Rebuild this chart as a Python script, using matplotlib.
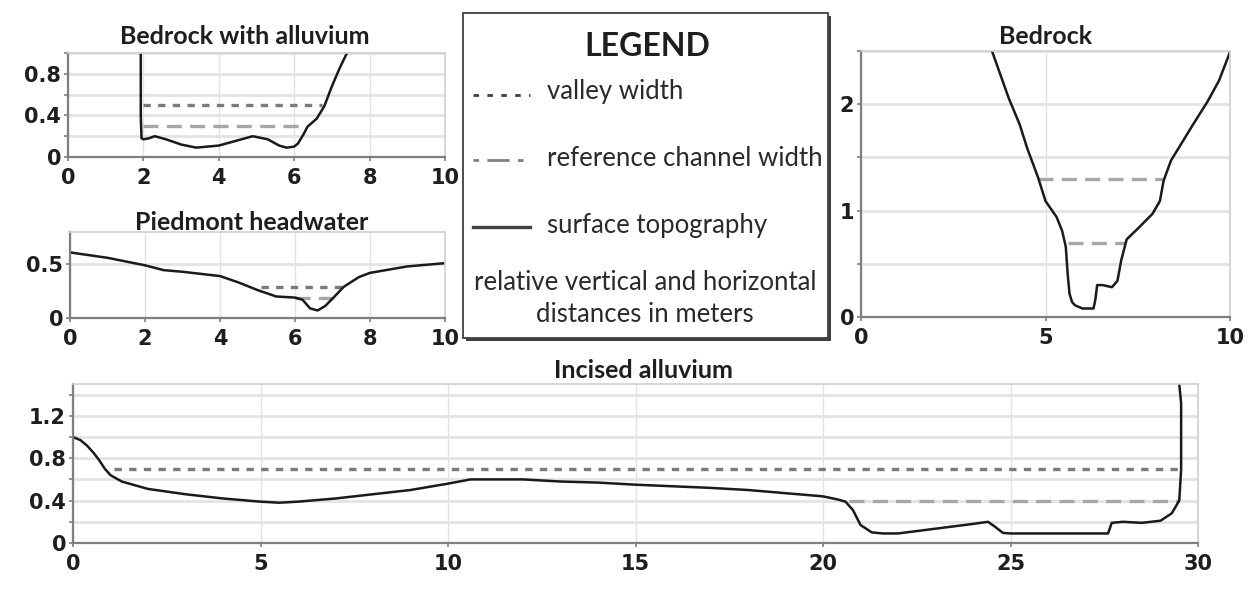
import matplotlib.pyplot as plt
import numpy as np
from matplotlib.lines import Line2D
from matplotlib.patches import Rectangle

plt.rcParams['font.family'] = ['Lato', 'DejaVu Sans']

# ---- data ----
# Bedrock with alluvium
ba_x = [1.93, 1.93, 1.95, 2.0, 2.15, 2.3, 2.6, 3.0, 3.4, 4.0, 4.5, 4.9, 5.3, 5.6, 5.8, 6.0, 6.1,
        6.25, 6.35, 6.6, 6.8, 7.0, 7.2, 7.4]
ba_y = [1.0, 0.4, 0.18, 0.17, 0.18, 0.2, 0.17, 0.12, 0.09, 0.11, 0.16, 0.2, 0.17, 0.11, 0.09, 0.1, 0.13,
        0.22, 0.29, 0.37, 0.49, 0.68, 0.85, 1.0]
ba_valley = ([2.0, 6.75], 0.5)
ba_ref = ([2.0, 6.25], 0.3)

# Piedmont headwater
ph_x = [0, 1, 2, 2.5, 3, 4, 4.5, 5, 5.5, 6.0, 6.2, 6.4, 6.6, 6.8, 7.0, 7.3, 7.7, 8, 9, 10]
ph_y = [0.61, 0.56, 0.49, 0.445, 0.43, 0.39, 0.33, 0.26, 0.2, 0.19, 0.17, 0.09, 0.07, 0.11, 0.18,
        0.29, 0.38, 0.42, 0.48, 0.51]
ph_valley = ([5.1, 7.3], 0.285)
ph_ref = ([6.0, 7.0], 0.19)

# Bedrock
br_x = [3.55, 4.0, 4.3, 4.5, 4.8, 5.0, 5.3, 5.45, 5.55, 5.6, 5.65, 5.72, 5.8, 6.0, 6.3, 6.35, 6.4,
        6.55, 6.8, 6.95, 7.05, 7.2, 7.5, 7.9, 8.1, 8.2, 8.4, 8.7, 9.0, 9.4, 9.7, 10.0]
br_y = [2.5, 2.06, 1.81, 1.59, 1.31, 1.09, 0.94, 0.81, 0.66, 0.41, 0.22, 0.14, 0.11, 0.08, 0.08,
        0.16, 0.3, 0.3, 0.28, 0.34, 0.53, 0.73, 0.83, 0.97, 1.09, 1.28, 1.47, 1.64, 1.81, 2.03,
        2.22, 2.49]
br_valley = ([4.8, 8.2], 1.3)
br_ref = ([5.6, 7.15], 0.7)

# Incised alluvium
ia_x = [0, 0.2, 0.37, 0.55, 0.7, 0.85, 1.0, 1.3, 2, 3, 4, 5, 5.5, 6, 7, 8, 9, 9.5, 10, 10.6, 11,
        12, 13, 14, 15, 16, 17, 18, 19, 20, 20.4, 20.6, 20.8, 21.0, 21.3, 21.6, 22, 23, 24, 24.4,
        24.6, 24.8, 25, 27, 27.6, 27.7, 28, 28.5, 29, 29.3, 29.5, 29.55, 29.55, 29.5]
ia_y = [1.0, 0.97, 0.92, 0.85, 0.78, 0.7, 0.64, 0.58, 0.51, 0.46, 0.42, 0.39, 0.38, 0.39, 0.42,
        0.46, 0.5, 0.53, 0.56, 0.6, 0.6, 0.6, 0.58, 0.57, 0.55, 0.535, 0.52, 0.5, 0.47, 0.44, 0.41,
        0.39, 0.31, 0.17, 0.1, 0.09, 0.09, 0.135, 0.18, 0.2, 0.15, 0.095, 0.09, 0.09, 0.09, 0.19,
        0.2, 0.19, 0.21, 0.28, 0.4, 0.69, 1.32, 1.5]
ia_valley = ([1.1, 29.5], 0.7)
ia_ref = ([20.7, 29.5], 0.4)

W, H = 1255, 604
fig = plt.figure(figsize=(W / 100, H / 100), dpi=100)

dot_style = dict(color='#7a7a7a', lw=2.4, dashes=(2.2, 2.2))
dash_style = dict(color='#a6a6a6', lw=2.4, dashes=(4.5, 2.5))
curve_style = dict(color='#1a1a1a', lw=1.8)
TXT = '#1e1e1e'


def make_ax(l, r, t, b):
    return fig.add_axes([l / W, 1 - b / H, (r - l) / W, (b - t) / H])


def style_ax(ax, xlim, xmaj, ylim, ymaj, ymin):
    ax.set_xlim(*xlim)
    ax.set_ylim(*ylim)
    ax.set_xticks(xmaj)
    ax.set_yticks(ymaj)
    ax.set_yticks(ymin, minor=True)
    tick_font = dict(fontsize=15, fontweight='bold', family='DejaVu Sans')
    ax.set_xticklabels([f'{v:g}' for v in xmaj], **tick_font)
    ax.set_yticklabels([f'{v:g}' for v in ymaj], **tick_font)
    ax.grid(True, axis='y', which='both', color='#e3e3e3', lw=2)
    ax.grid(True, axis='x', which='major', color='#e3e3e3', lw=1)
    ax.set_axisbelow(True)
    for s in ['left', 'bottom']:
        ax.spines[s].set_color('#7f7f7f')
        ax.spines[s].set_linewidth(1.6)
    for s in ['top', 'right']:
        ax.spines[s].set_color('#d0d0d0')
        ax.spines[s].set_linewidth(1.2)
    ax.tick_params(which='both', direction='out', length=3, width=1.2, color='#7f7f7f',
                   labelcolor=TXT)
    ax.tick_params(axis='x', pad=5)
    ax.tick_params(axis='y', pad=2)


def draw_panel(ax, x, y, valley, ref, ref2_style=None):
    ax.plot(valley[0], [valley[1]] * 2, **(ref2_style or dot_style))
    ax.plot(ref[0], [ref[1]] * 2, **dash_style)
    ax.plot(x, y, **curve_style)


# Bedrock with alluvium
ax1 = make_ax(68, 445, 53, 157)
style_ax(ax1, (0, 10), [0, 2, 4, 6, 8, 10], (0, 1.0), [0, 0.4, 0.8], [0.2, 0.6, 1.0])
draw_panel(ax1, ba_x, ba_y, ba_valley, ba_ref)
fig.text(245 / W, 1 - 37 / H, 'Bedrock with alluvium', ha='center', va='center',
         fontsize=18, fontweight='bold', color=TXT)

# Piedmont headwater
ax2 = make_ax(70, 445, 232, 318)
style_ax(ax2, (0, 10), [0, 2, 4, 6, 8, 10], (0, 0.8), [0, 0.5], [])
draw_panel(ax2, ph_x, ph_y, ph_valley, ph_ref)
fig.text(252 / W, 1 - 222 / H, 'Piedmont headwater', ha='center', va='center',
         fontsize=18, fontweight='bold', color=TXT)

# Bedrock
ax4 = make_ax(861, 1230, 51, 317)
style_ax(ax4, (0, 10), [0, 5, 10], (0, 2.5), [0, 1, 2], [0.5, 1.5, 2.5])
draw_panel(ax4, br_x, br_y, br_valley, br_ref, ref2_style=dash_style)
fig.text(1046 / W, 1 - 37 / H, 'Bedrock', ha='center', va='center',
         fontsize=18, fontweight='bold', color=TXT)

# Incised alluvium
ax5 = make_ax(73, 1198, 384, 543)
style_ax(ax5, (0, 30), [0, 5, 10, 15, 20, 25, 30], (0, 1.5), [0, 0.4, 0.8, 1.2],
         [0.2, 0.6, 1.0, 1.4])
draw_panel(ax5, ia_x, ia_y, ia_valley, ia_ref)
fig.text(643 / W, 1 - 371 / H, 'Incised alluvium', ha='center', va='center',
         fontsize=18, fontweight='bold', color=TXT)

# Legend box
lg = fig.add_axes([0, 0, 1, 1])
lg.set_xlim(0, W)
lg.set_ylim(H, 0)
lg.axis('off')
lg.add_patch(Rectangle((466, 16), 365, 325, facecolor='#404040', edgecolor='none'))
lg.add_patch(Rectangle((463, 13), 365, 325, facecolor='white', edgecolor='#404040', lw=1.3))
lg.text(647, 46, 'LEGEND', ha='center', va='center', fontsize=23, fontweight='bold',
        color=TXT)
lg.add_line(Line2D([473, 530], [95, 95], color='#404040', lw=2, dashes=(2, 3)))
lg.text(547, 92, 'valley width', ha='left', va='center', fontsize=18.5, color='#2a2a2a')
lg.add_line(Line2D([473, 530], [160, 160], color='#808080', lw=2, dashes=(2, 3, 8, 3)))
lg.text(547, 159, 'reference channel width', ha='left', va='center', fontsize=18.5,
        color='#2a2a2a')
lg.add_line(Line2D([473, 530], [227, 227], color='#404040', lw=2.4))
lg.text(547, 226, 'surface topography', ha='left', va='center', fontsize=18.5,
        color='#2a2a2a')
lg.text(645, 282, 'relative vertical and horizontal', ha='center', va='center',
        fontsize=18.5, color='#2a2a2a')
lg.text(645, 314, 'distances in meters', ha='center', va='center', fontsize=18.5,
        color='#2a2a2a')

fig.savefig('out.png', dpi=100)
